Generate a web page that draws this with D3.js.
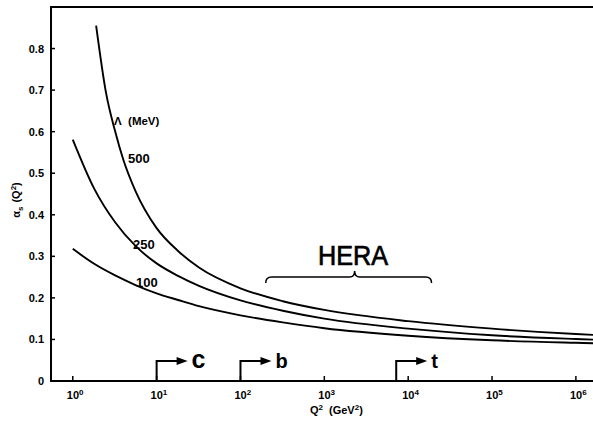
<!DOCTYPE html>
<html>
<head>
<meta charset="utf-8">
<script src="https://cdn.jsdelivr.net/npm/d3@7"></script>
<style>
  body { margin: 0; background: white; }
  svg { display: block; }
  text { font-family: "Liberation Sans", Arial, sans-serif; fill: black; }
</style>
</head>
<body>
<svg id="chart" width="593" height="422"></svg>
<script>
// alpha_s(Q^2), one curve per Lambda (MeV)
const q2_100 = [1, 1.8, 3.2, 5.6, 10, 18, 32, 100, 320, 1000, 1e4, 1e5, 1e6, 1.6e6];
const as_100 = [0.318, 0.282, 0.254, 0.231, 0.211, 0.195, 0.180, 0.158, 0.141, 0.127, 0.109, 0.098, 0.092, 0.091];

const q2_250 = [1, 1.8, 3.2, 5.6, 10, 18, 32, 100, 320, 1000, 1e4, 1e5, 1e6, 1.6e6];
const as_250 = [0.581, 0.463, 0.382, 0.325, 0.283, 0.253, 0.229, 0.194, 0.169, 0.150, 0.126, 0.110, 0.101, 0.0995];

const q2_500 = [1.9, 2.5, 3.2, 4, 5.6, 10, 18, 32, 100, 320, 1000, 1e4, 1e5, 1e6, 1.6e6];
const as_500 = [0.855, 0.692, 0.601, 0.533, 0.457, 0.368, 0.313, 0.273, 0.223, 0.192, 0.171, 0.144, 0.126, 0.113, 0.111];

const lambdas = ["100", "250", "500"];
const yTicks = [0, 0.1, 0.2, 0.3, 0.4, 0.5, 0.6, 0.7, 0.8];
const xTicks = [1, 10, 100, 1000, 1e4, 1e5, 1e6];
const xTickExp = ["0", "1", "2", "3", "4", "5", "6"];

// quark thresholds and the HERA range
const thresholdQ2 = [10, 100, 7200];
const thresholdLabels = ["c", "b", "t"];
const heraRange = [200, 1.9e4];
const heraMid = 2300;

const svg = d3.select("#chart");

const x = d3.scaleLog().domain([0.55, 1.6e6]).range([51, 593]);
const y = d3.scaleLinear().domain([0, 0.9]).range([381, 7]);

// frame: left axis, top line, bottom axis
svg.append("line")
    .attr("x1", 51).attr("x2", 51)
    .attr("y1", y(0)).attr("y2", y(0.9))
    .attr("stroke", "black").attr("stroke-width", 2);
svg.append("line")
    .attr("x1", 50).attr("x2", 593)
    .attr("y1", y(0.9)).attr("y2", y(0.9))
    .attr("stroke", "black").attr("stroke-width", 2);
svg.append("line")
    .attr("x1", 50).attr("x2", 593)
    .attr("y1", y(0)).attr("y2", y(0))
    .attr("stroke", "black").attr("stroke-width", 2);

// y ticks (inward)
const yAxis = svg.append("g");
yAxis.selectAll("line")
    .data(yTicks.filter(d => d > 0))
    .enter().append("line")
    .attr("x1", 51).attr("x2", 55)
    .attr("y1", d => y(d)).attr("y2", d => y(d))
    .attr("stroke", "black").attr("stroke-width", 1.5);
yAxis.selectAll("text")
    .data(yTicks)
    .enter().append("text")
    .attr("x", 44)
    .attr("y", d => y(d) + 4)
    .attr("text-anchor", "end")
    .attr("font-size", "11px")
    .attr("font-weight", "bold")
    .text(d => d === 0 ? "0" : d3.format(".1f")(d));

// x ticks (inward) with 10^n labels
const xAxis = svg.append("g");
xAxis.selectAll("line")
    .data(xTicks)
    .enter().append("line")
    .attr("x1", d => x(d)).attr("x2", d => x(d))
    .attr("y1", y(0)).attr("y2", y(0) - 5)
    .attr("stroke", "black").attr("stroke-width", 1.5);
const xLabels = xAxis.selectAll("text")
    .data(xTicks)
    .enter().append("text")
    .attr("x", d => x(d) - 6)
    .attr("y", 399)
    .attr("font-size", "11px")
    .attr("font-weight", "bold");
xLabels.append("tspan").text("10");
xLabels.append("tspan")
    .attr("dy", -4)
    .attr("font-size", "8px")
    .text((d, i) => xTickExp[i]);

// axis titles
const xTitle = svg.append("text")
    .attr("x", 310).attr("y", 414)
    .attr("font-size", "11px")
    .attr("font-weight", "bold");
xTitle.append("tspan").text("Q");
xTitle.append("tspan").attr("dy", -4).attr("font-size", "8px").text("2");
xTitle.append("tspan").attr("dy", 4).attr("dx", 6).text("(GeV");
xTitle.append("tspan").attr("dy", -4).attr("font-size", "8px").text("2");
xTitle.append("tspan").attr("dy", 4).text(")");

const yTitle = svg.append("text")
    .attr("transform", "translate(20,200) rotate(-90)")
    .attr("text-anchor", "middle")
    .attr("font-size", "11px")
    .attr("font-weight", "bold");
yTitle.append("tspan").text("α");
yTitle.append("tspan").attr("dy", 3).attr("font-size", "8px").text("s");
yTitle.append("tspan").attr("dy", -3).attr("dx", 4).text("(Q");
yTitle.append("tspan").attr("dy", -4).attr("font-size", "8px").text("2");
yTitle.append("tspan").attr("dy", 4).text(")");

// curves
const line = d3.line()
    .x(d => x(d[0]))
    .y(d => y(d[1]))
    .curve(d3.curveMonotoneX);

const curves = [
    d3.zip(q2_100, as_100),
    d3.zip(q2_250, as_250),
    d3.zip(q2_500, as_500)
];

svg.append("g").selectAll("path")
    .data(curves)
    .enter().append("path")
    .attr("d", line)
    .attr("fill", "none")
    .attr("stroke", "black")
    .attr("stroke-width", 1.9);

// curve labels
const labelPos = [[136, 287], [133, 249], [128, 163]];
svg.append("g").selectAll("text")
    .data(lambdas)
    .enter().append("text")
    .attr("x", (d, i) => labelPos[i][0])
    .attr("y", (d, i) => labelPos[i][1])
    .attr("font-size", "13px")
    .attr("font-weight", "bold")
    .text(d => d);

svg.append("text")
    .attr("x", 114).attr("y", 125)
    .attr("font-size", "11.5px")
    .attr("font-weight", "bold")
    .attr("xml:space", "preserve")
    .text("Λ  (MeV)");

// HERA brace
const hx0 = x(heraRange[0]), hx1 = x(heraRange[1]);
const hxm = x(heraMid);
const by = 277;
svg.append("path")
    .attr("d", `M${hx0},${by + 6} Q${hx0},${by} ${hx0 + 6},${by} L${hxm - 5},${by} Q${hxm},${by} ${hxm},${by - 6} Q${hxm},${by} ${hxm + 5},${by} L${hx1 - 6},${by} Q${hx1},${by} ${hx1},${by + 6}`)
    .attr("fill", "none")
    .attr("stroke", "black")
    .attr("stroke-width", 1.5);
svg.append("text")
    .attr("x", 353).attr("y", 265)
    .attr("text-anchor", "middle")
    .attr("font-size", "27px")
    .attr("stroke", "black")
    .attr("stroke-width", 0.7)
    .attr("textLength", 70)
    .attr("lengthAdjust", "spacingAndGlyphs")
    .text("HERA");

// threshold arrows
const arrows = svg.append("g");
thresholdQ2.forEach((q, i) => {
    const ax = x(q);
    arrows.append("path")
        .attr("d", `M${ax},${y(0)} L${ax},${y(0) - 20} L${ax + 22},${y(0) - 20}`)
        .attr("fill", "none")
        .attr("stroke", "black")
        .attr("stroke-width", 2);
    arrows.append("path")
        .attr("d", `M${ax + 20},${y(0) - 24} L${ax + 31},${y(0) - 20} L${ax + 20},${y(0) - 16} Z`)
        .attr("fill", "black");
    arrows.append("text")
        .attr("x", ax + 35)
        .attr("y", y(0) - 13)
        .attr("font-size", thresholdLabels[i] === "c" ? "25px" : "20px")
        .attr("font-weight", "bold")
        .text(thresholdLabels[i]);
});
</script>
</body>
</html>
